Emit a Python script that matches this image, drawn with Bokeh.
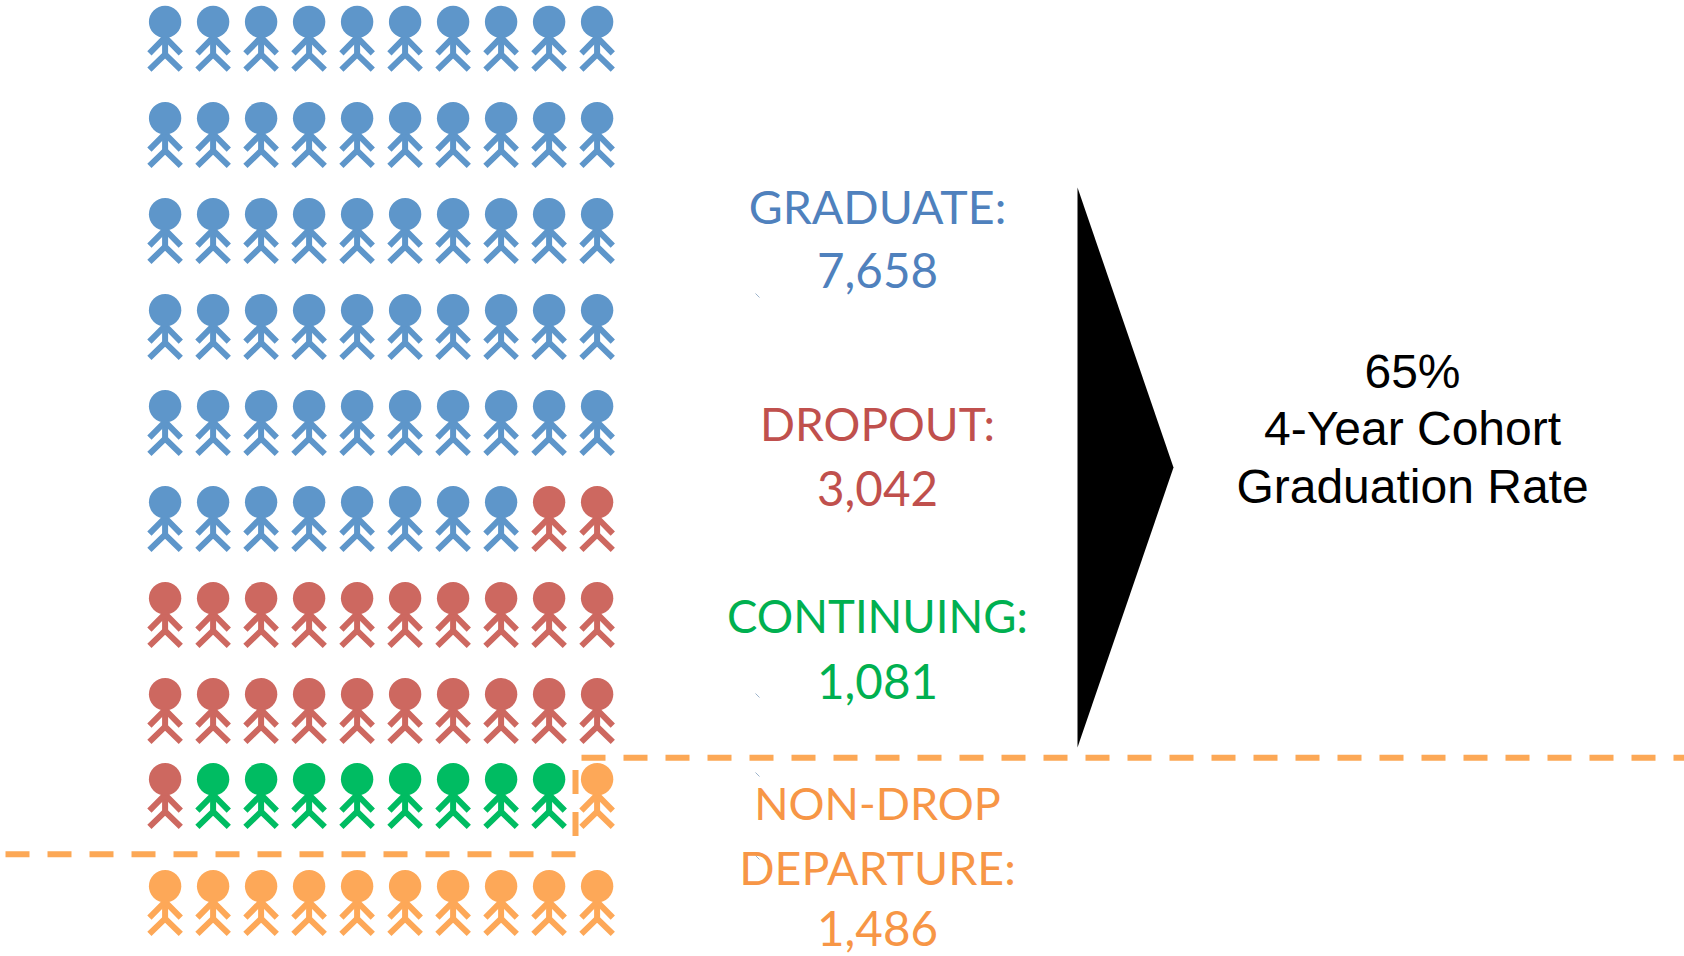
from bokeh.plotting import figure
from bokeh.embed import file_html
from bokeh.resources import INLINE
from bokeh.core.properties import value

# --- data ---
categories = ["GRADUATE:", "DROPOUT:", "CONTINUING:", "NON-DROP\nDEPARTURE:"]
counts_text = ["7,658", "3,042", "1,081", "1,486"]
icons_per_category = [58, 23, 8, 11]
outcome_text = ["65%", "4-Year Cohort", "Graduation Rate"]

# --- styling / layout ---
W, H = 1684, 956
ICON = ["#5E96CA", "#CD6860", "#00BC62", "#FDA858"]
TXT = ["#4F81BD", "#C0504D", "#00B050", "#F79646"]
COL_X = [164.6 + 48 * i for i in range(10)]
ROW_Y = [21.4, 117.7, 213.7, 309.7, 405.7, 501.7, 597.7, 693.7, 778.7, 885.7]
TEXT_SHIFT = 18

p = figure(width=W, height=H, x_range=(0, W), y_range=(H, 0), toolbar_location=None,
           output_backend="svg", min_border=0, outline_line_color=None)
p.axis.visible = False
p.grid.visible = False

# icon order: row by row, left to right; the ninth row keeps its orange icon at the far right
seq = []
for c, n in enumerate(icons_per_category):
    seq += [c] * n
seq[81:89] = [2] * 8
seq[80] = 1
seq[89] = 3

hx, hy, hc = [], [], []
lx, ly, lc = [], [], []
for i, c in enumerate(seq):
    cx = COL_X[i % 10]
    cy = ROW_Y[i // 10]
    hx.append(cx); hy.append(cy); hc.append(ICON[c])
    lx.append([cx, cx]); ly.append([cy + 14, cy + 33]); lc.append(ICON[c])
    lx.append([cx - 15.7, cx, cx + 15.7]); ly.append([cy + 31.5, cy + 15.5, cy + 31.5]); lc.append(ICON[c])
    lx.append([cx - 15.7, cx, cx + 15.7]); ly.append([cy + 47.7, cy + 32.5, cy + 47.7]); lc.append(ICON[c])

p.multi_line(lx, ly, line_color=lc, line_width=6, line_cap="butt", line_join="miter")
p.circle(hx, hy, radius=16.2, fill_color=hc, line_color=None)

# triangle
p.patch([1077, 1173, 1077], [187, 467, 747], fill_color="black", line_color=None)

# dashed separators
DASH = "#FCA856"
p.line([581, 1684], [757.3, 757.3], line_color=DASH, line_width=6, line_dash="24 18")
p.line([5, 578], [853.7, 853.7], line_color=DASH, line_width=6, line_dash="24 18")
p.line([575, 575], [769.5, 836], line_color=DASH, line_width=6, line_dash="24 18")

# specks
sx = [[755, 759], [755, 759], [755, 759], [755, 759]]
sy = [[293, 297], [693, 697], [772, 776], [855, 859]]
p.multi_line(sx, sy, line_color="#9DB4CC", line_width=1)

# category labels
tx, ty, tt, tc, ts = [], [], [], [], []
base = [[223, 288], [441, 506], [633, 699], [820, 884, 946]]
label_px = [[46.5], [46], [45.5], [45, 46.5]]
for k, (cat, cnt) in enumerate(zip(categories, counts_text)):
    lines = cat.split("\n") + [cnt]
    sizes = label_px[k] + [47.5]
    for ln, b, s in zip(lines, base[k], sizes):
        tx.append(877); ty.append(b - TEXT_SHIFT); tt.append(ln); tc.append(TXT[k]); ts.append(f"{s}px")
p.text(tx, ty, text=tt, text_color=tc, text_font=value("Lato"), text_font_size=ts,
       text_align="center", text_baseline="alphabetic")

p.text([1412] * 3, [389 - TEXT_SHIFT, 446 - TEXT_SHIFT, 504 - TEXT_SHIFT], text=outcome_text, text_color="black",
       text_font=value("Liberation Sans"), text_font_size="48px",
       text_align="center", text_baseline="alphabetic")

open("out.html", "w").write(file_html(p, INLINE))
